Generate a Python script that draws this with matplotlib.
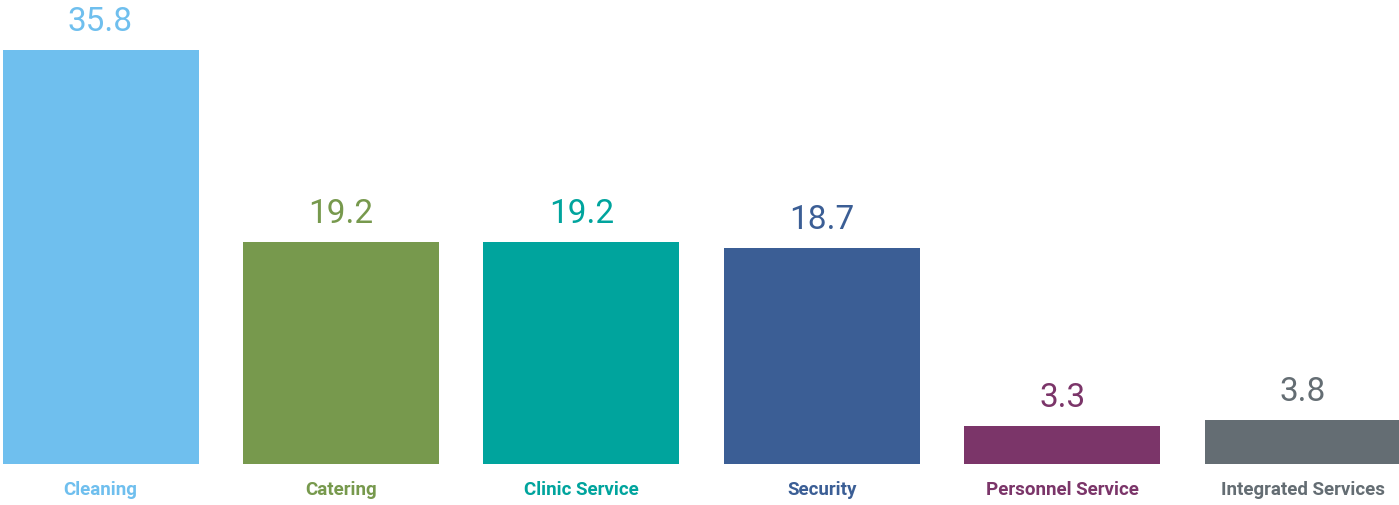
import matplotlib
matplotlib.use("Agg")
import matplotlib.pyplot as plt

categories = ["Cleaning", "Catering", "Clinic Service", "Security", "Personnel Service", "Integrated Services"]
values = [35.8, 19.2, 19.2, 18.7, 3.3, 3.8]
value_labels = ["35.8", "19.2", "19.2", "18.7", "3.3", "3.8"]
colors = ["#6FBFEE", "#77994D", "#00A49D", "#3B5E95", "#7B3569", "#646D73"]

W, H = 1399, 506
fig = plt.figure(figsize=(W / 100, H / 100), dpi=100)
base_px = 41
ax = fig.add_axes([0, base_px / H, 1, 1 - base_px / H])
ax.set_xlim(-0.418, 5.40)
ax.set_ylim(0, 465 / 11.56)
ax.axis("off")

x = list(range(len(categories)))
bars = ax.bar(x, values, width=0.815, color=colors)
for xi, v, lab, c in zip(x, values, value_labels, colors):
    ax.annotate(lab, (xi, v), xytext=(0, 9.5), textcoords="offset points",
                ha="center", va="bottom", fontsize=24, color=c, family="Roboto")
    ax.annotate(categories[xi], (xi, 0), xytext=(0, -18), textcoords="offset points",
                ha="center", va="center", fontsize=13.5, color=c, family="Roboto",
                fontweight="bold")

fig.savefig("out.png", dpi=100)
